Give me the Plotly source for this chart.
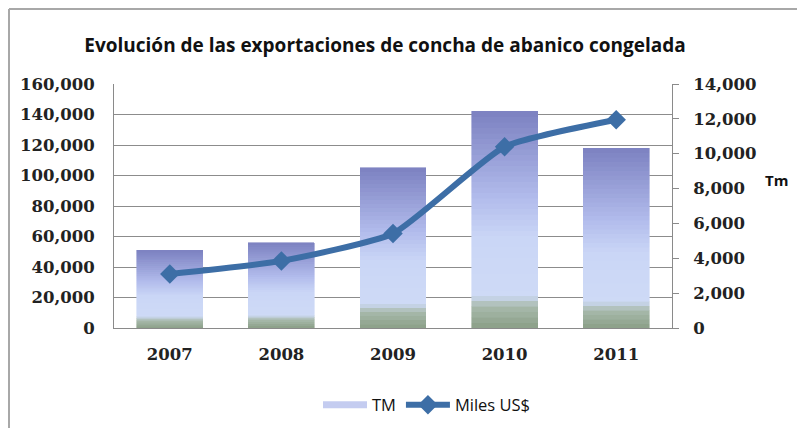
import plotly.graph_objects as go

years = ["2007", "2008", "2009", "2010", "2011"]
tm_values = [51000, 56000, 105000, 142000, 118000]
miles_usd = [3100, 3850, 5420, 10400, 11950]
left_ticks = [0, 20000, 40000, 60000, 80000, 100000, 120000, 140000, 160000]
right_ticks = [0, 2000, 4000, 6000, 8000, 10000, 12000, 14000]

title_text = "Evolución de las exportaciones de concha de abanico congelada"

# gradient stops for bar fill (fraction of bar height from bottom -> colour)
stops = [(0.0, (138, 158, 134)), (0.10, (168, 186, 172)), (0.15, (206, 218, 246)),
         (0.42, (202, 214, 246)), (0.60, (178, 188, 236)), (1.0, (124, 129, 193))]


def grad(f):
    for (f0, c0), (f1, c1) in zip(stops[:-1], stops[1:]):
        if f0 <= f <= f1:
            t = (f - f0) / (f1 - f0) if f1 > f0 else 0
            c = [round(a + (b - a) * t) for a, b in zip(c0, c1)]
            return "rgb({},{},{})".format(*c)
    return "rgb({},{},{})".format(*stops[-1][1])


# page body has an 8px default margin -> figure is 797x420 placed at (8, 8)
OFF = 8
W, H = 805 - OFF, 428 - OFF
L, T = 114 - OFF, 84 - OFF
R, B = 805 - 672, 428 - 328
PW, PH = W - L - R, H - T - B

N = 40
fig = go.Figure()
for k in range(N):
    col = grad((k + 0.5) / N)
    fig.add_trace(go.Bar(
        x=years, y=[v / N for v in tm_values],
        marker=dict(color=col, line=dict(color=col, width=0.6)),
        name="TM", showlegend=False, hoverinfo="skip", yaxis="y",
    ))
# legend entry for the bars (wide lavender swatch as in the original)
fig.add_trace(go.Scatter(
    x=years, y=[None] * len(years), name="TM", mode="lines",
    line=dict(color="rgb(196,204,240)", width=7), showlegend=True, yaxis="y",
))

fig.add_trace(go.Scatter(
    x=years, y=miles_usd, name="Miles US$", yaxis="y2",
    mode="lines+markers",
    line=dict(color="#3d6ea6", width=6, shape="spline", smoothing=0.5),
    marker=dict(symbol="diamond", size=15, color="#3d6ea6"),
))

tick_font = dict(family="DejaVu Serif", size=16.5, color="#222222", weight="bold")


def px_x(x):
    return (x - OFF - L) / PW


def px_y(y):
    return (H - B - (y - OFF)) / PH


fig.update_layout(
    width=W, height=H,
    margin=dict(l=L, r=R, t=T, b=B, autoexpand=False),
    paper_bgcolor="white", plot_bgcolor="white",
    barmode="stack", bargap=0.41,
    title=dict(text=title_text, x=(385 - OFF) / W, xanchor="center",
               y=1 - (45 - OFF) / H, yanchor="middle",
               font=dict(family="Open Sans", size=19, color="#111111", weight="bold")),
    xaxis=dict(type="category", showline=True, linecolor="#8a8a8a", linewidth=1,
               ticks="", tickfont=tick_font, ticklabelstandoff=11, showgrid=False),
    yaxis=dict(range=[0, 160000], tickvals=left_ticks, tickformat=",",
               showgrid=True, gridcolor="#8c8c8c", gridwidth=1,
               showline=True, linecolor="#8a8a8a", linewidth=1,
               ticks="", tickfont=tick_font, ticklabelstandoff=15, zeroline=False),
    yaxis2=dict(range=[0, 14000], tickvals=right_ticks, tickformat=",",
                overlaying="y", side="right", showgrid=False,
                showline=True, linecolor="#8a8a8a", linewidth=1,
                ticks="outside", ticklen=6, tickcolor="#8a8a8a",
                tickfont=tick_font, ticklabelstandoff=11, zeroline=False),
    legend=dict(orientation="h", x=px_x(427), xanchor="center", y=px_y(405), yanchor="middle",
                traceorder="normal", itemwidth=44,
                font=dict(family="Open Sans", size=16.5, color="#111111"),
                bgcolor="rgba(0,0,0,0)"),
    showlegend=True,
)

fig.add_annotation(text="<b>Tm</b>", xref="paper", yref="paper",
                   x=px_x(776), y=px_y(180),
                   showarrow=False, xanchor="center", yanchor="middle",
                   font=dict(family="Open Sans", size=15, color="#111111"))

# outer chart border (top and left)
fig.add_shape(type="line", xref="paper", yref="paper",
              x0=px_x(9), x1=px_x(805),
              y0=px_y(9), y1=px_y(9),
              line=dict(color="#a8a8a8", width=2))
fig.add_shape(type="line", xref="paper", yref="paper",
              x0=px_x(9), x1=px_x(9),
              y0=px_y(9), y1=px_y(428),
              line=dict(color="#a8a8a8", width=2))

fig.write_html("out.html")
